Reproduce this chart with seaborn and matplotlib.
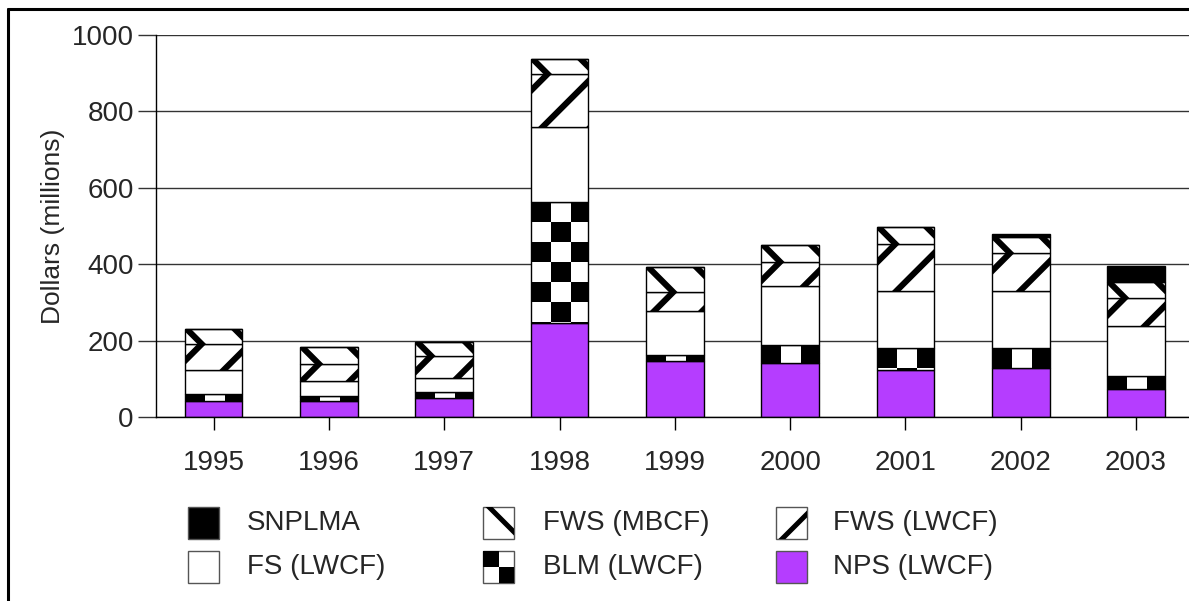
import numpy as np
import seaborn as sns
import matplotlib.pyplot as plt
from matplotlib.patches import Rectangle
from matplotlib.lines import Line2D
from matplotlib.transforms import IdentityTransform

# values (millions of dollars), stacked bottom -> top
years = ["1995", "1996", "1997", "1998", "1999", "2000", "2001", "2002", "2003"]
nps_lwcf = [42, 42, 50, 246, 147, 141, 123, 128, 73]
blm_lwcf = [18, 13, 15, 317, 15, 47, 58, 53, 34]
fs_lwcf = [63, 39, 37, 196, 115, 155, 149, 149, 131]
fws_lwcf = [68, 45, 58, 139, 50, 63, 123, 99, 74]
fws_mbcf = [39, 44, 36, 39, 66, 44, 44, 42, 41]
snplma = [0, 0, 0, 0, 0, 0, 0, 7, 42]

PURPLE = "#b53dff"
W, H = 1189, 601

sns.set_style("white")
plt.rcParams["font.family"] = ["Liberation Sans", "DejaVu Sans"]

fig = plt.figure(figsize=(W / 100, H / 100), dpi=100)
ax = fig.add_axes([156 / W, 184 / H, 1 - 156 / W + 0.002, (417 - 35) / H])

# ------------------------------------------------------------
# stacked bars
# ------------------------------------------------------------
layers = [
    ("NPS (LWCF)", nps_lwcf, PURPLE, None),
    ("BLM (LWCF)", blm_lwcf, "white", "checker"),
    ("FS (LWCF)", fs_lwcf, "white", None),
    ("FWS (LWCF)", fws_lwcf, "white", "fwd"),
    ("FWS (MBCF)", fws_mbcf, "white", "back"),
    ("SNPLMA", snplma, "black", None),
]

bottom = np.zeros(len(years))
containers = {}
for name, vals, color, pat in layers:
    sns.barplot(x=years, y=vals, bottom=bottom.copy(), color=color,
                saturation=1, width=0.5, edgecolor="black", linewidth=1,
                errorbar=None, ax=ax, zorder=2)
    containers[name] = ax.containers[-1]
    bottom += np.array(vals)

ax.set_xlim(-0.5, 8.48)
ax.set_ylim(0, 1000)
ax.set_yticks([0, 200, 400, 600, 800, 1000])
ax.yaxis.grid(True, color="#333333", linewidth=1, zorder=0)
ax.set_axisbelow(True)
for s in ["top", "right"]:
    ax.spines[s].set_visible(False)
for s in ["left", "bottom"]:
    ax.spines[s].set_color("black")
    ax.spines[s].set_linewidth(1)
ax.tick_params(axis="y", length=13, width=1, color="#333333", pad=3,
               labelsize=20, left=True)
ax.tick_params(axis="x", length=9, width=1, color="black", pad=15,
               labelsize=20, bottom=True)
ax.set_xlabel("")
ax.set_ylabel("Dollars (millions)", fontsize=19, labelpad=5)


# ------------------------------------------------------------
# fill patterns (drawn in pixel space, clipped to each patch)
# ------------------------------------------------------------
def attach(owner, art, patch):
    owner.add_artist(art)
    art.set_clip_path(patch)   # after add_artist, which would reset clipping


def diag(owner, patch, direction, anchor_x, spacing=48, lw=4.4):
    bb = patch.get_window_extent()
    if bb.height < 0.5:
        return
    L = bb.height + bb.width + 20
    n = int(np.ceil(L / spacing)) + 2
    for k in range(-n, n + 1):
        xa = anchor_x + k * spacing
        if direction == "fwd":
            xs, ys = [xa - L, xa + L], [bb.y1 - L, bb.y1 + L]
        else:
            xs, ys = [xa - L, xa + L], [bb.y1 + L, bb.y1 - L]
        ln = Line2D(xs, ys, transform=IdentityTransform(), color="black",
                    lw=lw, solid_capstyle="butt", zorder=3)
        attach(owner, ln, patch)


def checker(owner, patch, size=20, x_off=0):
    bb = patch.get_window_extent()
    if bb.height < 0.5:
        return
    nx = int(np.ceil((bb.width - x_off) / size)) + 1
    ny = int(np.ceil(bb.height / size))
    for i in range(ny):
        for j in range(nx):
            if (i + j) % 2 == 0:
                sq = Rectangle((bb.x0 + x_off + j * size, bb.y1 - (i + 1) * size),
                               size, size, transform=IdentityTransform(),
                               facecolor="black", edgecolor="none", zorder=3)
                attach(owner, sq, patch)


for bar_m, bar_l, bar_b in zip(containers["FWS (MBCF)"], containers["FWS (LWCF)"],
                               containers["BLM (LWCF)"]):
    bm = bar_m.get_window_extent()
    diag(ax, bar_m, "back", bm.x0 + 2)
    diag(ax, bar_l, "fwd", bm.x0 + 2 + bm.height)
    checker(ax, bar_b)

# ------------------------------------------------------------
# legend (3 columns x 2 rows, as in the reference)
# ------------------------------------------------------------
leg_cols = [188, 483, 776]
leg_text_x = [247, 543, 833]
leg_rows = [507, 551]
leg_items = [
    ("SNPLMA", 0, 0), ("FWS (MBCF)", 1, 0), ("FWS (LWCF)", 2, 0),
    ("FS (LWCF)", 0, 1), ("BLM (LWCF)", 1, 1), ("NPS (LWCF)", 2, 1),
]
styles = {name: (color, pat) for name, vals, color, pat in layers}
bw, bh = 31, 32
for name, c, r in leg_items:
    color, pat = styles[name]
    x0 = leg_cols[c]
    y0 = H - (leg_rows[r] + bh)
    box = Rectangle((x0, y0), bw, bh, transform=IdentityTransform(),
                    facecolor=color, edgecolor="#555555", lw=1, zorder=2)
    fig.add_artist(box)
    if pat == "back":
        diag(fig, box, "back", x0 + 6, spacing=200, lw=3.6)
    elif pat == "fwd":
        diag(fig, box, "fwd", x0 + 38, spacing=200, lw=3.6)
    elif pat == "checker":
        for (dx, dy) in [(0, bh / 2), (bw / 2, 0)]:
            sq = Rectangle((x0 + dx, y0 + dy), bw / 2, bh / 2,
                           transform=IdentityTransform(), facecolor="black",
                           edgecolor="none", zorder=3)
            fig.add_artist(sq)
    fig.text(leg_text_x[c] / W, 1 - (leg_rows[r] + bh / 2) / H, name,
             fontsize=20, va="center", ha="left")

# outer frame (top and left edges of the original page box)
fig.add_artist(Line2D([8 / W, 1], [1 - 9 / H, 1 - 9 / H],
                      transform=fig.transFigure, color="black", lw=2.2))
fig.add_artist(Line2D([8 / W, 8 / W], [0, 1 - 9 / H],
                      transform=fig.transFigure, color="black", lw=2.2))

fig.savefig("out.png", dpi=100)
